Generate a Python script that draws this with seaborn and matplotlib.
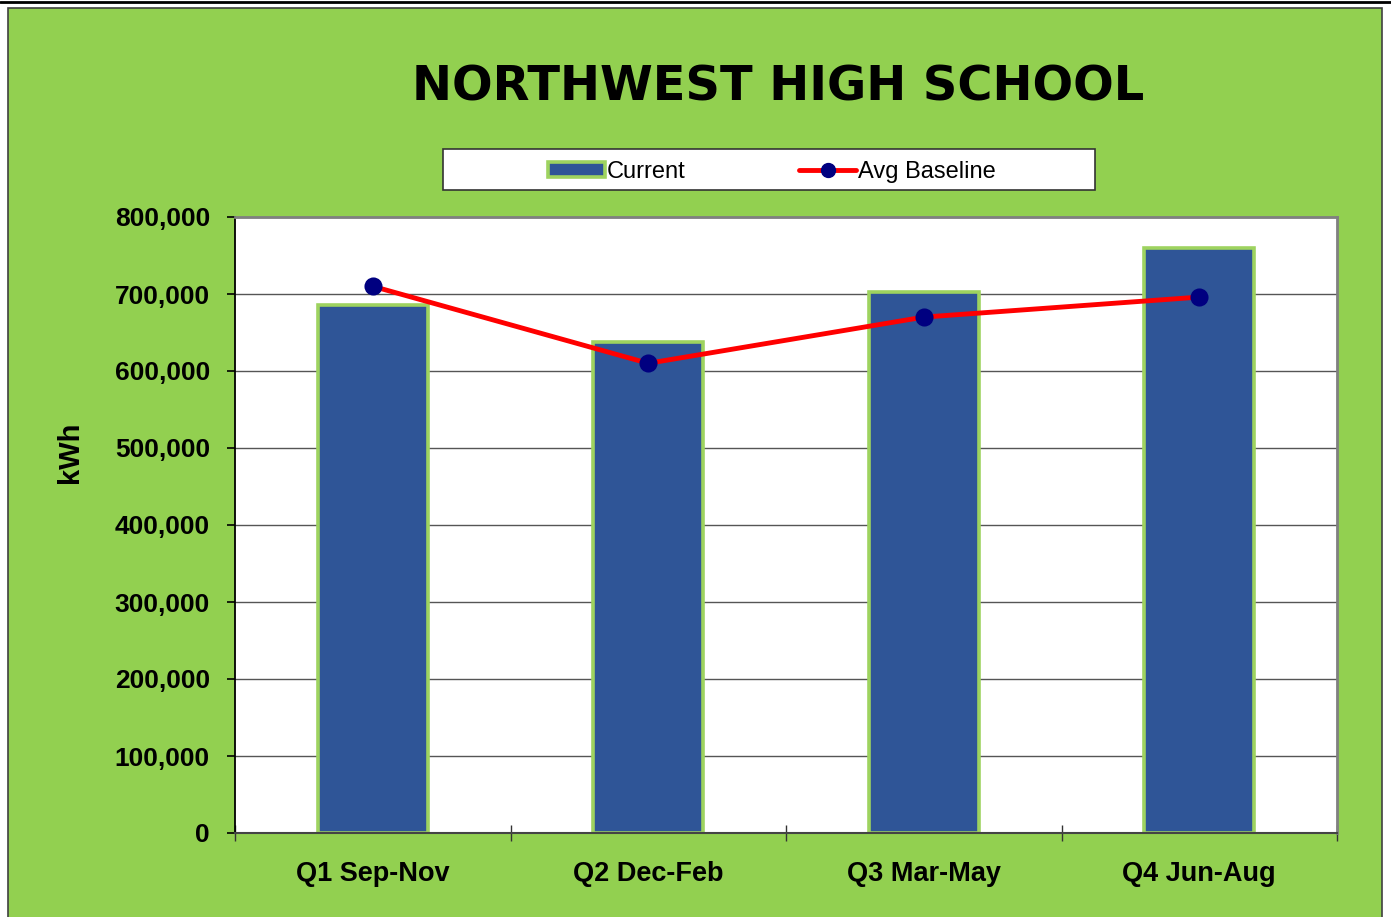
import numpy as np
import pandas as pd
import matplotlib
matplotlib.use("Agg")
import matplotlib.pyplot as plt
import seaborn as sns
from matplotlib.patches import Patch, Rectangle
from matplotlib.lines import Line2D
from matplotlib.ticker import FuncFormatter, FixedLocator

# datos
trimestres = ["Q1 Sep-Nov", "Q2 Dec-Feb", "Q3 Mar-May", "Q4 Jun-Aug"]
actual = [686000, 638000, 703000, 760000]
linea_base = [710000, 610000, 670000, 696000]
yticks = list(range(0, 800001, 100000))

verde = "#92D050"
azul = "#2F5597"
navy = "#000080"

sns.set_style("white")
plt.rcParams["font.family"] = ["Liberation Sans", "DejaVu Sans"]
plt.rcParams["text.color"] = "black"
plt.rcParams["axes.labelcolor"] = "black"
plt.rcParams["xtick.color"] = "black"
plt.rcParams["ytick.color"] = "black"
narrow = ["Liberation Sans Narrow", "Liberation Sans", "DejaVu Sans"]

df = pd.DataFrame({"trimestre": trimestres, "actual": actual, "base": linea_base})

fig = plt.figure(figsize=(13.91, 9.17), dpi=100, facecolor="white")
W, H = 1391, 917

# fondo verde del area del grafico
fig.patches.append(Rectangle((8 / W, -0.01), 1374 / W, (917 - 8) / H + 0.01, transform=fig.transFigure,
                             facecolor=verde, edgecolor="#404040", linewidth=1.2, zorder=-5))
fig.add_artist(Line2D([0, 1], [1 - 1.5 / H, 1 - 1.5 / H], transform=fig.transFigure, color="black", lw=2))

ax = fig.add_axes([235 / W, (917 - 833) / H, (1337 - 235) / W, (833 - 217) / H])
ax.set_facecolor("white")
ax.set_zorder(1)

sns.barplot(data=df, x="trimestre", y="actual", color=azul, width=0.4, saturation=1,
            edgecolor="#9ED35F", linewidth=2.6, ax=ax, zorder=2)
sns.pointplot(data=df, x="trimestre", y="base", color="red", markers="o", linestyles="-",
              errorbar=None, ax=ax)
for ln in ax.lines:
    ln.set_color("red")
    ln.set_linewidth(3.5)
    ln.set_markerfacecolor(navy)
    ln.set_markeredgecolor(navy)
    ln.set_markersize(11)
    ln.set_zorder(4)

ax.set_xlim(-0.5, 3.5)
ax.set_ylim(0, 800000)
ax.yaxis.set_major_locator(FixedLocator(yticks))
ax.yaxis.set_major_formatter(FuncFormatter(lambda v, p: f"{int(v):,}"))
ax.yaxis.grid(True, color="#555555", linewidth=1.0, zorder=0)
ax.set_axisbelow(True)

ax.set_xlabel("")
ax.set_ylabel("kWh", fontsize=21, fontweight="bold", labelpad=22)
ax.yaxis.label.set_y((833 - 452) / 616)

for lab in ax.get_yticklabels():
    lab.set_family(narrow)
    lab.set_fontsize(19)
    lab.set_fontweight("bold")
for lab in ax.get_xticklabels():
    lab.set_family(narrow)
    lab.set_fontsize(19.5)
    lab.set_fontweight("bold")

ax.tick_params(axis="y", direction="out", length=6, width=1.2, color="black", pad=12, left=True)
ax.tick_params(axis="x", which="major", length=0, pad=20)
ax.xaxis.set_minor_locator(FixedLocator([-0.5, 0.5, 1.5, 2.5, 3.5]))
ax.tick_params(axis="x", which="minor", direction="inout", length=12, width=1.0, color="#333333", bottom=True)

ax.spines["left"].set_color("black")
ax.spines["left"].set_linewidth(1.3)
ax.spines["bottom"].set_color("#444444")
ax.spines["bottom"].set_linewidth(1.5)
for s in ["top", "right"]:
    ax.spines[s].set_visible(True)
    ax.spines[s].set_color("#808080")
    ax.spines[s].set_linewidth(2)

fig.text(778 / W, 1 - 87 / H, "NORTHWEST HIGH SCHOOL", ha="center", va="center",
         fontsize=34.5, fontweight="bold", family=["DejaVu Sans"], color="black")

# leyenda
fig.patches.append(Rectangle((443 / W, 1 - 190 / H), 652 / W, 41 / H, transform=fig.transFigure,
                             facecolor="white", edgecolor="#333333", linewidth=1.2, zorder=1))
handles = [Patch(facecolor=azul, edgecolor="#9ED35F", linewidth=2.6),
           Line2D([], [], color="red", lw=3.5, marker="o", markerfacecolor=navy,
                  markeredgecolor=navy, markersize=10)]
fig.legend(handles, ["Current", "Avg Baseline"], loc="center", bbox_to_anchor=(772 / W, 1 - 172 / H),
           ncol=2, frameon=False, fontsize=17, handlelength=2.4, handletextpad=0.1,
           columnspacing=4.8, handleheight=0.6)

fig.savefig("out.png", dpi=100, facecolor="white")
